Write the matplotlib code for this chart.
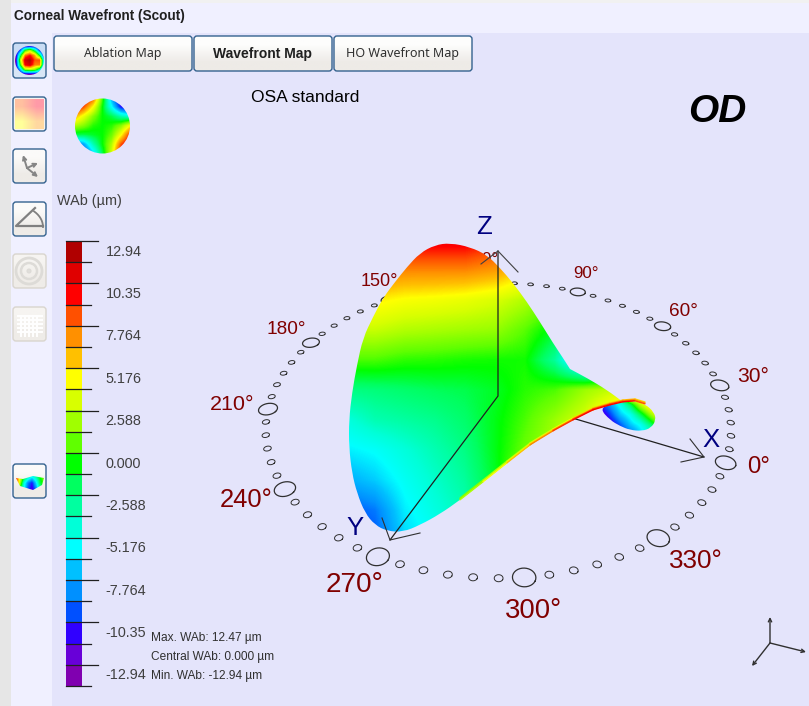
import matplotlib
matplotlib.use('Agg')
import matplotlib.pyplot as plt
import numpy as np
from matplotlib.collections import LineCollection
from matplotlib.colors import LinearSegmentedColormap, ListedColormap, to_rgb
from matplotlib.patches import Circle, FancyBboxPatch, PathPatch, Polygon, Rectangle
from matplotlib.path import Path

plt.rcParams['font.family'] = ['Liberation Sans', 'DejaVu Sans']

# colour scale, top cell first
scale_colors = ['#b00000', '#e00000', '#ff0000', '#ff5000', '#ff9000', '#ffc000', '#ffff00',
                '#d8ff00', '#a0ff00', '#60ff00', '#00ff00', '#00ff60', '#00ffa0', '#00ffd8',
                '#00ffff', '#00c0ff', '#0090ff', '#0050ff', '#3000ff', '#6800d8', '#8000b0']
scale_labels = ['12.94', '10.35', '7.764', '5.176', '2.588', '0.000',
                '-2.588', '-5.176', '-7.764', '-10.35', '-12.94']
stats_labels = ['Max. WAb: 12.47 µm', 'Central WAb: 0.000 µm', 'Min. WAb: -12.94 µm']
button_labels = ['Ablation Map', 'Wavefront Map', 'HO Wavefront Map']

# wavefront height, on a coarse grid of picture positions
surf_x = [345, 375, 405, 435, 465, 495, 525, 555, 585, 615, 645]
surf_y = [240, 270, 300, 330, 360, 390, 420, 450, 480, 510, 540]
surf_z = [[11, 11, 11, 11, 11, 10, 8, 6, 4, 3, 3],
          [9, 8.5, 8, 8, 8, 7.5, 6, 4, 2, 1, 1],
          [6, 5.5, 5, 4.8, 4.5, 4, 3, 1.5, 0, -1, -1],
          [3.5, 3.5, 3, 2.8, 2.6, 2.4, 1.2, -0.5, -8, -8, -8],
          [1, 1, 0.6, 0.5, 0.3, 0.2, 0.2, -2.5, -8, -8, -8],
          [-2, -1.8, -1.5, -1.2, -1, -0.5, 0.5, 1, 2.5, 3.5, 4.5],
          [-4.2, -3, -2.6, -2.2, -1.5, -0.3, 1, 2.5, 4, 7, 9],
          [-5.5, -5, -4, -3, -2, -0.3, 1.5, 3, 6, 8, 9],
          [-7, -6.2, -4.8, -3.6, -2.5, -0.5, 3, 5, 7, 8, 9],
          [-9, -8.2, -5.5, -4.2, -3, 0, 3, 5, 7, 8, 9],
          [-10, -9, -6, -5, -3, 0, 3, 5, 7, 8, 9]]
surf_outline_x = [450, 435, 420, 407, 395, 383, 373, 363, 357, 352, 349, 349, 352, 357, 365, 375, 387,
                  403, 420, 440, 460, 483, 507, 530, 553, 573, 593, 610, 623, 623,
                  607, 587, 570, 570, 563, 553, 540, 527, 513, 500, 487, 470]
surf_outline_y = [243, 245, 253, 267, 282, 298, 317, 338, 365, 393, 420, 447, 473, 493, 513, 525, 531,
                  532, 525, 514, 500, 482, 463, 445, 431, 420, 410, 405, 402, 402,
                  390, 378, 369, 369, 358, 343, 322, 302, 283, 268, 255, 247]

# the bright rim along the lower edge
rim_x = [460, 483, 507, 530, 553, 573, 593, 610, 623, 635, 645]
rim_y = [500, 482, 463, 445, 431, 420, 410, 405, 402, 401, 404]
rim_z_outer = [3, 5, 6.5, 8, 9.5, 10.3, 10.5, 10.5, 10.5, 9, 8]
rim_z_mid = [2, 3, 4.5, 6, 7.5, 8.5, 9, 9, 8.5, 7.5, 6]
rim_z_inner = [2, 2.5, 3, 4, 5, 6, 6.5, 6.5, 6.5, 6, 5]

# rear lobe seen behind the rim
lobe_x = [600, 610, 620, 630, 640, 650, 660]
lobe_y = [395, 405, 415, 425, 435]
lobe_z = [[-8, -5, -2, 7, 8, 9, 9],
          [-10, -7.5, -4.8, -1.5, 3, 6, 7],
          [-12, -9.5, -6.5, -4.8, -1.5, 2, 5],
          [-13, -11.5, -9, -6.5, -5, -2, 1.5],
          [-13, -13, -11, -9, -6.5, -5, -1.5]]
lobe_outline_x = [600, 610, 623, 635, 645, 654, 656, 651, 642, 630, 620, 610]
lobe_outline_y = [409, 404, 402, 401, 404, 412, 420, 428, 431, 430, 426, 420]

# thumbnail map
thumb_z = [[12, 12, 9, 1, -7, -12, -13],
           [12, 9, 5, 0, -5, -10, -12],
           [7, 4.5, 2, 0, -1, -3, -4],
           [3, 2, 0.5, 0, 0.5, 2, 5],
           [-1, -1, -0.5, 0, 1.5, 5, 10],
           [-9, -7, -3, 0, 3, 9, 12],
           [-12, -10, -6, -1, 4, 11, 13]]
icon_map_z = [[-13, -13, -13, -13, -13, -13, -13],
              [-13, -9, 0, 3, -2, -10, -13],
              [-13, -2, 8, 10, 7, -1, -12],
              [-13, 3, 12, 13, 9, 9, -8],
              [-13, 0, 11, 12, 8, 8, -8],
              [-13, -7, 2, 3, 2, -3, -13],
              [-13, -13, -13, -13, -13, -13, -13]]
icon_lens_z = [[10, 5, 0, -3, -5, -3, 0, 2],
               [11, 3, -4, -8, -10, -6, -1, 1],
               [5, 0, -5, -9, -11, -8, -3, 0]]
icon_lens_x = [16, 23, 33, 44, 42, 33, 20]
icon_lens_y = [478, 479, 476, 478, 485, 490, 486]

# angular ring: big marks, used to fit the plane of the ring
ring_deg = np.array([0, 30, 60, 90, 180, 210, 240, 270, 300, 330])
ring_x = np.array([726, 720, 662, 578, 311, 268, 285, 378, 524, 658])
ring_y = np.array([462, 386, 326, 292, 342, 410, 489, 556, 578, 538])

angle_labels = ['0°', '30°', '60°', '90°', '120°', '150°', '180°', '210°', '240°', '270°', '300°', '330°']
angle_x = [759, 753, 683, 586, 481, 379, 286, 232, 246, 355, 533, 696]
angle_y = [467, 377, 311, 273, 259, 282, 330, 405, 500, 585, 611, 561]
angle_size = [24, 21, 19, 17, 17, 18, 19, 21.5, 25.5, 28, 27.5, 26]

BG = '#e4e4fb'
PANEL = '#f0f0ff'
EDGE = '#34628f'


def fit_ring(deg, x, y):
    # least squares homography from the unit circle to the picture
    rows = []
    for d, px, py in zip(np.radians(deg), x, y):
        u, v = np.cos(d), np.sin(d)
        rows.append([u, v, 1, 0, 0, 0, -px * u, -px * v, -px])
        rows.append([0, 0, 0, u, v, 1, -py * u, -py * v, -py])
    return np.linalg.svd(np.array(rows))[2][-1].reshape(3, 3)


def project(h, u, v):
    p = h @ np.vstack([u, v, np.ones_like(u)])
    return p[0] / p[2], p[1] / p[2]


def curved_patch(x, y):
    # closed quadratic curve with the outline points as control points
    pts = np.column_stack([x, y]).astype(float)
    mids = (pts + np.roll(pts, -1, axis=0)) / 2
    verts = [mids[-1]]
    codes = [Path.MOVETO]
    for p, m in zip(pts, mids):
        verts += [p, m]
        codes += [Path.CURVE3, Path.CURVE3]
    return PathPatch(Path(verts, codes))


def field(ax, x, y, z, cmap, clip, zorder, interp='bilinear'):
    x, y = np.asarray(x, float), np.asarray(y, float)
    dx, dy = (x[1] - x[0]) / 2, (y[1] - y[0]) / 2
    im = ax.imshow(z, cmap=cmap, vmin=-12.94, vmax=12.94, aspect='auto', origin='upper',
                   extent=[x[0] - dx, x[-1] + dx, y[-1] + dy, y[0] - dy],
                   interpolation=interp, interpolation_stage='data', zorder=zorder)
    ax.add_patch(clip)
    clip.set(facecolor='none', edgecolor='none', zorder=zorder)
    im.set_clip_path(clip)
    return im


def button(ax, x0, y0, x1, y1, top, bottom, edge=EDGE, zorder=3):
    box = FancyBboxPatch((x0 + 2, y0 + 2), x1 - x0 - 4, y1 - y0 - 4, boxstyle='round,pad=2,rounding_size=3',
                         facecolor='none', edgecolor=edge, linewidth=1.0, zorder=zorder + 0.2)
    ax.add_patch(box)
    shade = np.array([[to_rgb(top)], [to_rgb(bottom)]])
    im = ax.imshow(shade, extent=[x0, x1, y1, y0], aspect='auto', interpolation='bilinear', zorder=zorder)
    im.set_clip_path(box)


cmap_smooth = LinearSegmentedColormap.from_list('wab', scale_colors[::-1], N=512)
cmap_cells = ListedColormap(scale_colors[::-1])

fig = plt.figure(figsize=(8.09, 7.06), dpi=100)
ax = fig.add_axes([0, 0, 1, 1])
ax.set_axis_off()

# window background
ax.add_patch(Rectangle((0, 0), 809, 706, facecolor=BG, edgecolor='none', zorder=0))
ax.add_patch(Rectangle((11, 3), 798, 30, facecolor=PANEL, edgecolor='none', zorder=0.1))
ax.add_patch(Rectangle((11, 3), 41, 703, facecolor=PANEL, edgecolor='none', zorder=0.1))
ax.add_patch(Rectangle((0, 0), 809, 3, facecolor='#f1f1f1', edgecolor='none', zorder=0.2))
ax.add_patch(Rectangle((0, 0), 11, 706, facecolor='#e6e6e6', edgecolor='none', zorder=0.2))

ax.text(14, 16, 'Corneal Wavefront (Scout)', fontsize=9.8, fontweight='bold', color='#202020',
        ha='left', va='center')

# tab buttons
for i, (label, x0, x1) in enumerate(zip(button_labels, [54, 194, 334], [192, 332, 472])):
    button(ax, x0, 36, x1, 71, '#fdfdfc', '#eeebe7')
    if i == 1:
        ax.text((x0 + x1) / 2 - 0.5, 54, label, fontsize=10, color='#202020', ha='center', va='center',
                fontweight='bold', zorder=4)
    else:
        ax.text((x0 + x1) / 2, 54, label, fontsize=8.9 if i == 0 else 9.0, color='#303030', ha='center',
                va='center', family=['Noto Sans', 'DejaVu Sans'], zorder=4)

# side icons
button(ax, 13, 43, 46, 78, '#c8dcf4', '#d8e6f6')
field(ax, np.linspace(15, 44, 7), np.linspace(46, 75, 7), icon_map_z, cmap_smooth,
      Circle((29.5, 60.5), 14.5), 4)

button(ax, 13, 97, 46, 131, '#f6f3ef', '#f6f3ef')
icon_fill = np.array([[to_rgb('#ffc0a0'), to_rgb('#ff9aa8')], [to_rgb('#ffff9a'), to_rgb('#ffd8a0')]])
ax.imshow(icon_fill, extent=[15, 44, 129, 99], aspect='auto', interpolation='bilinear', zorder=4)

button(ax, 13, 149, 46, 183, '#fbfaf9', '#eeebe7')
button(ax, 13, 202, 46, 236, '#fbfaf9', '#eeebe7')
button(ax, 13, 254, 46, 288, '#f6f4f1', '#efece8', edge='#d9d5ce')
button(ax, 13, 307, 46, 341, '#f6f4f1', '#efece8', edge='#d9d5ce')
button(ax, 13, 464, 46, 498, '#fbfaf9', '#eeebe7')

for tip in [(23, 155), (38, 163), (38, 177)]:
    ax.annotate('', xy=tip, xytext=(27, 168), zorder=5,
                arrowprops=dict(arrowstyle='->', color='#858585', lw=1.4, mutation_scale=6, shrinkA=0, shrinkB=0))
ax.plot([35, 16, 43], [208, 226, 226], color='#808080', lw=1.6, zorder=5)
arc_t = np.radians(np.arange(0, 50, 6))
ax.plot(16 + 27 * np.cos(arc_t), 226 - 21 * np.sin(arc_t) + 1, color='#808080', lw=1.3, zorder=5)
for r, lw in zip([13, 8, 1.5], [2, 1.8, 1.5]):
    ax.add_patch(Circle((29, 271), r, facecolor='none', edgecolor='#dddbd7', linewidth=lw, zorder=5))
for gx in [21, 25, 29, 33, 37]:
    ax.plot([gx, gx], [316, 336], color='white', lw=1.4, zorder=5)
for gy in [316, 320, 324, 328, 332]:
    ax.plot([18, 42], [gy, gy], color='white', lw=1.4, zorder=5)
field(ax, np.linspace(16, 44, 8), np.linspace(477, 489, 3), icon_lens_z, cmap_smooth,
      Polygon(np.column_stack([icon_lens_x, icon_lens_y])), 5)

# thumbnail and headings
field(ax, np.linspace(75, 130, 7), np.linspace(98, 153, 7), thumb_z, cmap_smooth,
      Circle((102.5, 126), 27.5), 2)
ax.text(305, 97, 'OSA standard', fontsize=12.5, color='black', ha='center', va='center')
ax.text(717, 112, 'OD', fontsize=28, fontweight='bold', fontstyle='italic', color='black', ha='center', va='center')
ax.text(57, 201, 'WAb (µm)', fontsize=10.4, color='#404040', ha='left', va='center')

# colour bar
cells = np.arange(len(scale_colors))[::-1][:, None]
ax.imshow(cells, cmap=cmap_cells, extent=[66, 82, 686, 241], aspect='auto', interpolation='nearest', zorder=2)
cell_h = (686 - 241) / len(scale_colors)
for i in range(len(scale_colors) + 1):
    tick_end = 98 if i % 2 == 0 and i < len(scale_colors) else 91
    ax.plot([66, tick_end], [241 + i * cell_h] * 2, color='#202020', lw=0.9, zorder=3)
for i, label in enumerate(scale_labels):
    ax.text(105.5, 241 + (2 * i + 0.5) * cell_h, label, fontsize=10.4, color='#404040', ha='left', va='center')
for label, y in zip(stats_labels, [638, 657, 676]):
    ax.text(151, y, label, fontsize=8.6, color='#303030', ha='left', va='center')

# angular ring
h = fit_ring(ring_deg, ring_x, ring_y)
t = np.linspace(0, 2 * np.pi, 33)
for deg in range(0, 360, 5):
    r = 0.04 if deg % 30 == 0 else 0.015
    cu, cv = np.cos(np.radians(deg)), np.sin(np.radians(deg))
    mx, my = project(h, cu + r * np.cos(t), cv + r * np.sin(t))
    ax.plot(mx, my, color='#303030', lw=0.7 if deg % 30 else 0.9, zorder=2)
for label, x, y, s in zip(angle_labels, angle_x, angle_y, angle_size):
    ax.text(x, y, label, fontsize=s * 0.72, color='#800000', ha='center', va='center', zorder=2)

# X axis passes under the surface
ax.plot([498, 704], [396, 457], color='#202020', lw=0.9, zorder=3)
ax.plot([690, 704, 681], [439, 457, 462], color='#303030', lw=0.8, zorder=3)

field(ax, lobe_x, lobe_y, lobe_z, cmap_smooth, curved_patch(lobe_outline_x, lobe_outline_y), 4)
field(ax, surf_x, surf_y, surf_z, cmap_smooth, curved_patch(surf_outline_x, surf_outline_y), 5)

# rim strands, nested from the edge inwards
for values, shift in zip([rim_z_inner, rim_z_mid, rim_z_outer], [2.0, 1.1, 0.2]):
    points = np.column_stack([rim_x, np.array(rim_y) - shift])
    segments = np.stack([points[:-1], points[1:]], axis=1)
    rim = LineCollection(segments, cmap=cmap_smooth, zorder=6, linewidths=1.0, capstyle='round')
    rim.set_array(np.array(values[:-1], float))
    rim.set_clim(-12.94, 12.94)
    ax.add_collection(rim)

# Y and Z axes on top of the surface
ax.plot([498, 498, 390], [251, 396, 540], color='#202020', lw=0.9, zorder=7)
ax.plot([481, 498, 518], [264, 251, 272], color='#404040', lw=0.8, zorder=7)
ax.plot([382, 390, 420], [518, 540, 533], color='#303030', lw=0.8, zorder=7)
for label, x, y in zip(['Z', 'X', 'Y'], [484, 711, 355], [227, 440, 528]):
    ax.text(x, y, label, fontsize=18.5, color='#000080', ha='center', va='center', zorder=8)

# small orientation triad
for tip in [(770, 617), (806, 652), (752, 666)]:
    ax.annotate('', xy=tip, xytext=(770, 643), zorder=3,
                arrowprops=dict(arrowstyle='->', color='#303030', lw=1.0, mutation_scale=6, shrinkA=0, shrinkB=0))

ax.set_xlim(0, 809)
ax.set_ylim(706, 0)
fig.savefig('out.png', dpi=100)
